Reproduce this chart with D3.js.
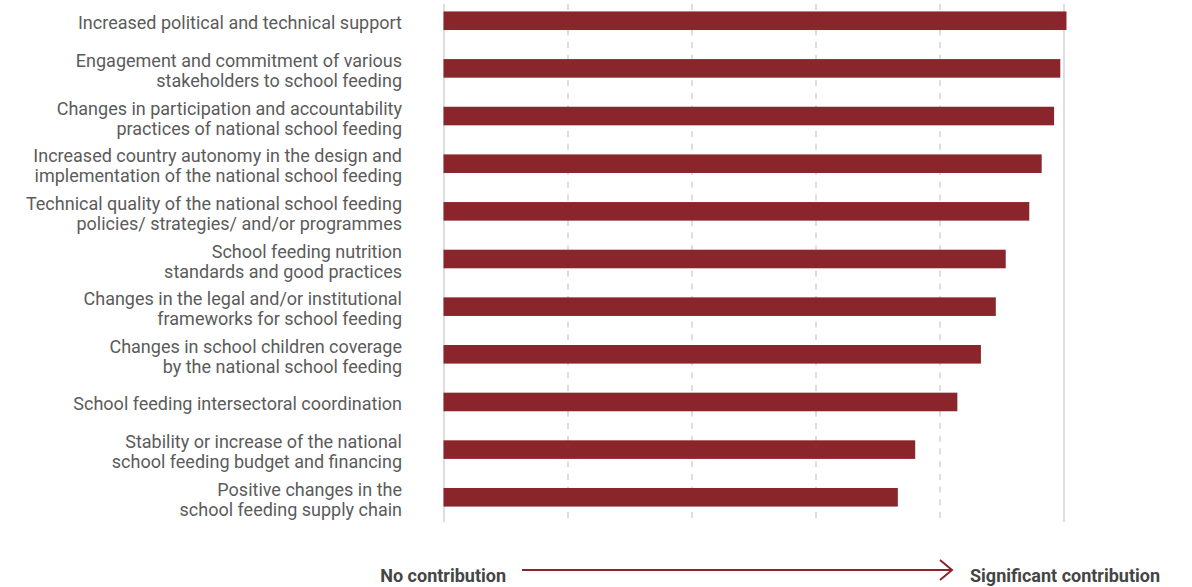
<!DOCTYPE html>
<html>
<head>
<meta charset="utf-8">
<script src="https://cdn.jsdelivr.net/npm/d3@7"></script>
<style>
  html, body { margin: 0; padding: 0; background: #fff; }
  svg { display: block; font-family: Roboto, "Noto Sans", sans-serif; }
</style>
</head>
<body>
<svg id="chart" width="1192" height="587"></svg>
<script>
// Contribution factors (label lines) and their average scores
const categories = [
  ["Increased political and technical support"],
  ["Engagement and commitment of various", "stakeholders to school feeding"],
  ["Changes in participation and accountability", "practices of national school feeding"],
  ["Increased country autonomy in the design and", "implementation of the national school feeding"],
  ["Technical quality of the national school feeding", "policies/ strategies/ and/or programmes"],
  ["School feeding nutrition", "standards and good practices"],
  ["Changes in the legal and/or institutional", "frameworks for school feeding"],
  ["Changes in school children coverage", "by the national school feeding"],
  ["School feeding intersectoral coordination"],
  ["Stability or increase of the national", "school feeding budget and financing"],
  ["Positive changes in the", "school feeding supply chain"]
];
const scores = [5.02, 4.97, 4.92, 4.82, 4.72, 4.53, 4.45, 4.33, 4.14, 3.80, 3.66];
const gridTicks = [0, 1, 2, 3, 4, 5];
const scaleLabels = ["No contribution", "Significant contribution"];

const svg = d3.select("#chart");
const barColor = "#8a252c";

const x = d3.scaleLinear().domain([0, 5]).range([444, 1064]);
const y = d3.scaleBand()
  .domain(d3.range(categories.length))
  .range([-3.1, 521.1])
  .paddingInner(0.61)
  .paddingOuter(0.305);

// Gridlines: solid at both ends, dashed in between
svg.append("g").selectAll("line")
  .data(gridTicks)
  .join("line")
  .attr("x1", d => x(d)).attr("x2", d => x(d))
  .attr("y1", 4).attr("y2", 522)
  .attr("stroke", "#d3d7d7")
  .attr("stroke-width", 1.6)
  .attr("stroke-dasharray", (d, i) => (i === 0 || i === gridTicks.length - 1) ? null : "6,6.7");

// Bars
svg.append("g").selectAll("rect")
  .data(scores)
  .join("rect")
  .attr("x", x(0) - 0.5)
  .attr("y", (d, i) => y(i))
  .attr("width", d => x(d) - x(0) + 0.5)
  .attr("height", y.bandwidth())
  .attr("fill", barColor);

// Category labels
const lineH = 20;
const labels = svg.append("g")
  .attr("font-size", 18)
  .attr("fill", "#5b5b5b")
  .attr("text-anchor", "end");
categories.forEach((lines, i) => {
  const cy = y(i) + y.bandwidth() / 2 + 2.2;
  const t = labels.append("text").attr("x", 402);
  lines.forEach((ln, j) => {
    t.append("tspan")
      .attr("x", 402)
      .attr("y", cy + (j - (lines.length - 1) / 2) * lineH)
      .attr("dy", "0.35em")
      .text(ln);
  });
});

// Scale direction legend
const legend = svg.append("g")
  .attr("font-size", 18)
  .attr("font-weight", "bold")
  .attr("fill", "#454545");
legend.append("text")
  .attr("x", 506).attr("y", 576).attr("dy", "0.35em")
  .attr("text-anchor", "end")
  .text(scaleLabels[0]);
legend.append("text")
  .attr("x", 970).attr("y", 576).attr("dy", "0.35em")
  .attr("text-anchor", "start")
  .text(scaleLabels[1]);

svg.append("line")
  .attr("x1", 522).attr("x2", 952)
  .attr("y1", 570).attr("y2", 570)
  .attr("stroke", barColor).attr("stroke-width", 2);
svg.append("path")
  .attr("d", "M940,560 L952,570 L940,580")
  .attr("fill", "none")
  .attr("stroke", barColor)
  .attr("stroke-width", 2);
</script>
</body>
</html>
